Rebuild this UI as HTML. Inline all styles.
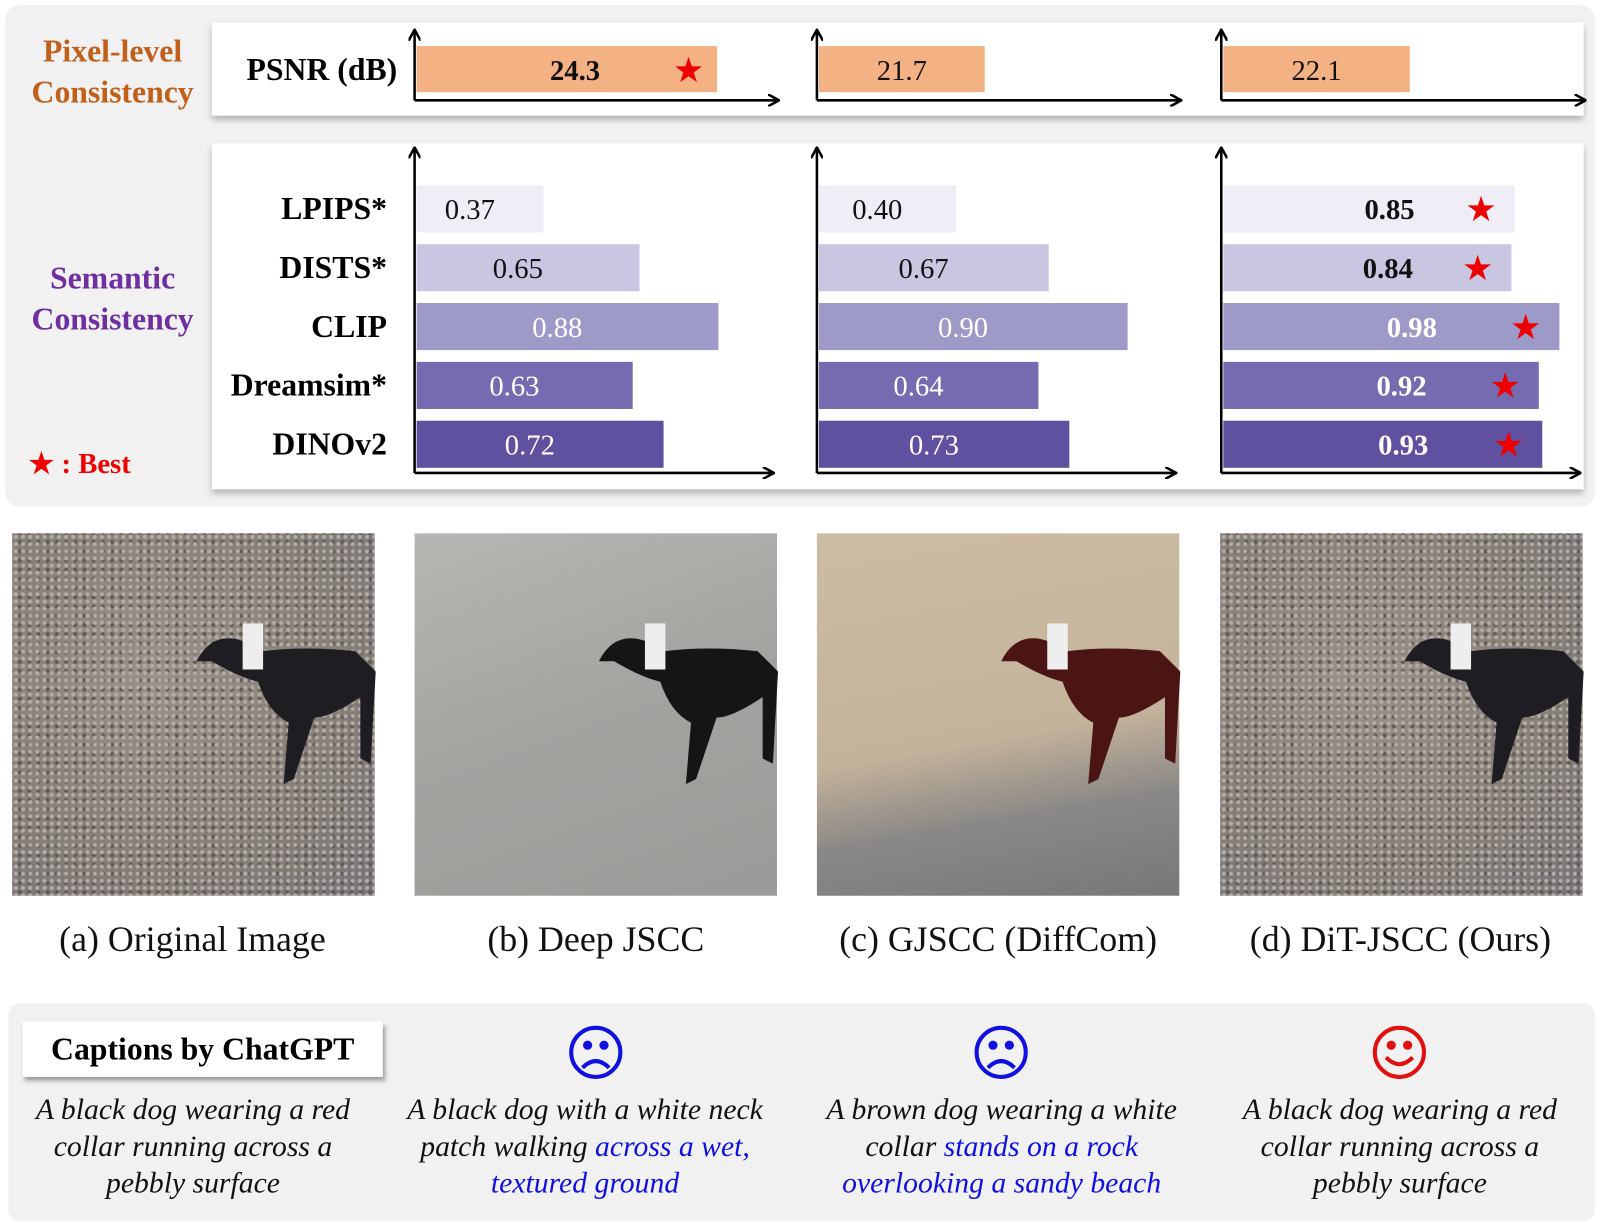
<!DOCTYPE html>
<html><head><meta charset="utf-8">
<style>
body{margin:0;width:1600px;height:1228px;background:#fff;font-family:"Liberation Serif",serif;overflow:hidden}
#wrap{position:absolute;left:0;top:0;width:1563px;height:1200px;transform:scale(1.0237);transform-origin:0 0}
.abs{position:absolute}
.photo{position:absolute;top:521px;width:354px;height:354px;overflow:hidden}
.peb{background-image:radial-gradient(circle,#b5aca2 1.5px,transparent 2.5px),radial-gradient(circle,#5f5a58 1.5px,transparent 2.5px),radial-gradient(circle at 40% 40%,#9a9188,#857f79 60%,#76737a);background-size:7px 7px,9px 9px,100% 100%;background-position:0 0,3px 4px,0 0}
.lbl{position:absolute;top:898px;width:420px;text-align:center;font-size:35px;color:#111}
.cap{position:absolute;top:1066px;width:355px;text-align:center;font-style:italic;font-size:29px;line-height:36px;color:#111}
.b{color:#1010e0}
</style></head><body><div id="wrap">
<div class="abs" style="left:5px;top:5px;width:1553px;height:490px;background:#f1f1f1;border-radius:14px"></div>
<div class="abs" style="left:8px;top:980px;width:1550px;height:213px;background:#f1f1f1;border-radius:12px"></div>
<svg id="chart" class="abs" style="left:0;top:0" width="1600" height="500">
<defs><filter id="sh" x="-2%" y="-10%" width="104%" height="130%"><feDropShadow dx="0" dy="4" stdDeviation="3" flood-color="#888" flood-opacity="0.6"/></filter>
<marker id="ar" markerWidth="12" markerHeight="12" refX="10" refY="6" orient="auto" markerUnits="userSpaceOnUse"><path d="M0,0 L11,6 L0,12" fill="none" stroke="#000" stroke-width="2.5"/></marker></defs>
<rect x="207" y="22" width="1340" height="91" fill="#fff" filter="url(#sh)"/>
<rect x="207" y="140" width="1340" height="338" fill="#fff" filter="url(#sh)"/>
<g font-weight="bold" font-size="31" text-anchor="middle">
<text x="110" y="60" fill="#c0601a">Pixel-level</text>
<text x="110" y="100" fill="#c0601a">Consistency</text>
<text x="110" y="282" fill="#6f2fa0">Semantic</text>
<text x="110" y="322" fill="#6f2fa0">Consistency</text>
</g>
<text x="28" y="462" font-size="28" font-weight="bold" fill="#e00">★ : Best</text>
<g id="g"></g>
</svg>
<div class="photo peb" style="left:12px"></div>
<div class="photo" style="left:405px;background:linear-gradient(160deg,#b8b6b2,#a5a3a0 50%,#9c9a98)"></div>
<div class="photo" style="left:798px;background:linear-gradient(170deg,#cdbca4,#c4b39b 55%,#8a8886 75%,#7a7876)"></div>
<div class="photo peb" style="left:1192px"></div>
<svg class="abs" style="left:0;top:521px" width="1600" height="354">
<g id="dogs"></g></svg>
<div class="lbl" style="left:-22px">(a) Original Image</div>
<div class="lbl" style="left:372px">(b) Deep JSCC</div>
<div class="lbl" style="left:765px">(c) GJSCC (DiffCom)</div>
<div class="lbl" style="left:1158px">(d) DiT-JSCC (Ours)</div>
<div class="abs" style="left:22px;top:998px;width:352px;height:54px;background:#fff;box-shadow:2px 4px 4px #999;font-weight:bold;font-size:31px;line-height:54px;text-align:center">Captions by ChatGPT</div>
<svg class="abs" style="left:0;top:1000px" width="1600" height="60">
<g fill="none" stroke-width="4">
<g stroke="#1010e0"><circle cx="582" cy="28" r="24"/><circle cx="574" cy="21" r="2.5" fill="#1010e0"/><circle cx="590" cy="21" r="2.5" fill="#1010e0"/><path d="M569,43 Q582,30 595,43"/></g>
<g stroke="#1010e0"><circle cx="978" cy="28" r="24"/><circle cx="970" cy="21" r="2.5" fill="#1010e0"/><circle cx="986" cy="21" r="2.5" fill="#1010e0"/><path d="M965,43 Q978,30 991,43"/></g>
<g stroke="#e01010"><circle cx="1367" cy="28" r="24"/><circle cx="1359" cy="21" r="2.5" fill="#e01010"/><circle cx="1375" cy="21" r="2.5" fill="#e01010"/><path d="M1354,33 Q1367,46 1380,33"/></g>
</g></svg>
<div class="cap" style="left:11px">A black dog wearing a red collar running across a pebbly surface</div>
<div class="cap" style="left:394px">A black dog with a white neck patch walking <span class="b">across a wet, textured ground</span></div>
<div class="cap" style="left:801px">A brown dog wearing a white collar <span class="b">stands on a rock overlooking a sandy beach</span></div>
<div class="cap" style="left:1190px">A black dog wearing a red collar running across a pebbly surface</div>
</div>
<script>
const methods=["Deep JSCC","GJSCC","DiT-JSCC"];
const psnr=[24.3,21.7,22.1];
const metrics=["LPIPS*","DISTS*","CLIP","Dreamsim*","DINOv2"];
const sem0=[0.37,0.65,0.88,0.63,0.72];
const sem1=[0.40,0.67,0.90,0.64,0.73];
const sem2=[0.85,0.84,0.98,0.92,0.93];
const semLabels=[["0.37","0.65","0.88","0.63","0.72"],["0.40","0.67","0.90","0.64","0.73"],["0.85","0.84","0.98","0.92","0.93"]];
const psnrBest=0, semBest=2;
const NS="http://www.w3.org/2000/svg";
const g=document.getElementById('g');
const axX=[405,798,1193];
const colors=["#efeef6","#c9c6e2","#9e9ac8","#756bb0","#6050a0"];
const txtCol=["#111","#111","#fff","#fff","#fff"];
function px(v){return (v-18.5)*50.6;}
function sx(v){return v*335;}
function rowY(i){return 204+i*57.5;}
function mk(t,a){const e=document.createElementNS(NS,t);for(const k in a)e.setAttribute(k,a[k]);g.appendChild(e);return e;}
function line(x1,y1,x2,y2){const l=mk('line',{x1,y1,x2,y2,stroke:'#000','stroke-width':2.5,'marker-end':'url(#ar)'});}
function txt(x,y,s,a){const t=mk('text',Object.assign({x,y,'text-anchor':'middle','font-size':28},a));t.textContent=s;return t;}
const psl=mk('text',{x:388,y:78,'text-anchor':'end','font-size':31,'font-weight':'bold'});psl.textContent="PSNR (dB)";


metrics.forEach((m,i)=>{const t=txt(378,rowY(i)+10,m,{'text-anchor':'end','font-size':31,'font-weight':'bold'});

});
const sems=[sem0,sem1,sem2];
methods.forEach((m,k)=>{
 const x0=axX[k];
 line(x0,98,x0,30);line(x0,98,x0+355,98);
 line(x0,462,x0,145);line(x0,462,x0+350,462);
 const w=px(psnr[k]);
 const r=mk('rect',{x:x0+2,y:45,width:w,height:45,fill:'#f4b183'});
 
 
 const bold=k===psnrBest;
 txt(x0+2+w/2+(bold?8:0),78,psnr[k].toFixed(1),{fill:'#111','font-weight':bold?'bold':'normal'});
 if(bold)txt(x0+2+w-28,80,'★',{fill:'#e00','font-size':34});
 sems[k].forEach((v,i)=>{
  const bw=sx(v);
  const b=mk('rect',{x:x0+2,y:rowY(i)-23,width:bw,height:46,fill:colors[i]});
  
  
  const best=k===semBest;
  txt(x0+2+bw/2+(best?20:-10),rowY(i)+10,semLabels[k][i],{fill:txtCol[i],'font-weight':best?'bold':'normal'});
  if(best)txt(x0+2+bw-33,rowY(i)+12,'★',{fill:'#e00','font-size':34});
 });
});
const dg=document.getElementById('dogs');
[[12,'#1e1e22'],[405,'#151515'],[798,'#4a1512'],[1192,'#1e1e22']].forEach(([ox,c])=>{
 const p=document.createElementNS(NS,'path');
 p.setAttribute('d',`M${ox+180},${125} q15,-30 45,-20 l20,10 q40,-5 90,0 l20,20 l-5,90 l-10,-5 l0,-60 q-30,20 -45,20 l-20,60 l-10,5 l5,-60 q-20,-10 -30,-40 q-20,-5 -45,-20 z`);
 p.setAttribute('fill',c);
 
 
 dg.appendChild(p);
 const n=document.createElementNS(NS,'rect');
 n.setAttribute('x',ox+225);n.setAttribute('y',88);n.setAttribute('width',20);n.setAttribute('height',45);n.setAttribute('fill','#eee');
 
 
 dg.appendChild(n);
});
</script>
</body></html>
